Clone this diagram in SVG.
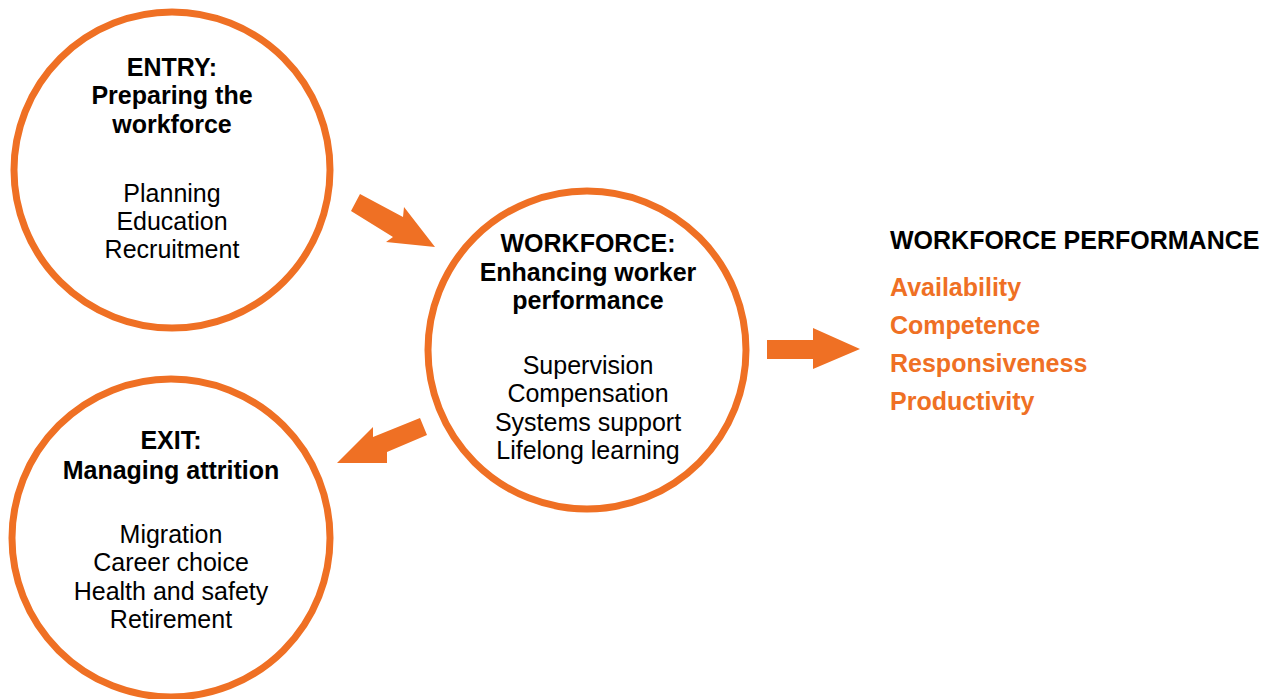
<svg xmlns="http://www.w3.org/2000/svg" width="1266" height="699" viewBox="0 0 1266 699">
<style>
.ring{fill:#fff;stroke:#EF7024;stroke-width:7}
.arrow{fill:#EF7024}
text{font-family:"Liberation Sans",Arial,sans-serif;font-size:25px;fill:#000}
.c{text-anchor:middle}
.b{font-weight:bold}
.o{fill:#EF7024;font-weight:bold}
</style>
<rect width="1266" height="699" fill="#fff"/>
<g id="connectors">
<polygon class="arrow" points="360,194 403,217 404,207 435,247 386,242 393,237 351,211"/>
<polygon class="arrow" points="420,418 427,435 387,452 387,463 337,463 373,427 373,437"/>
<polygon class="arrow" points="767,340 813,340 813,328 860,349 813,369 813,359 767,359"/>
</g>
<g id="entry">
<circle class="ring" cx="172" cy="170" r="158"/>
<text class="c b" x="172" y="76">ENTRY:</text>
<text class="c b" x="172" y="104">Preparing the</text>
<text class="c b" x="172" y="133">workforce</text>
<text class="c" x="172" y="202">Planning</text>
<text class="c" x="172" y="230">Education</text>
<text class="c" x="172" y="258">Recruitment</text>
</g>
<g id="workforce">
<circle class="ring" cx="587" cy="350" r="159"/>
<text class="c b" x="588" y="252">WORKFORCE:</text>
<text class="c b" x="588" y="281">Enhancing worker</text>
<text class="c b" x="588" y="309">performance</text>
<text class="c" x="588" y="374">Supervision</text>
<text class="c" x="588" y="402">Compensation</text>
<text class="c" x="588" y="431">Systems support</text>
<text class="c" x="588" y="459">Lifelong learning</text>
</g>
<g id="exit">
<circle class="ring" cx="171" cy="538" r="159"/>
<text class="c b" x="171" y="449">EXIT:</text>
<text class="c b" x="171" y="479">Managing attrition</text>
<text class="c" x="171" y="543">Migration</text>
<text class="c" x="171" y="571">Career choice</text>
<text class="c" x="171" y="600">Health and safety</text>
<text class="c" x="171" y="628">Retirement</text>
</g>
<g id="performance">
<text class="b" x="890" y="249">WORKFORCE PERFORMANCE</text>
<text class="o" x="890" y="296">Availability</text>
<text class="o" x="890" y="334">Competence</text>
<text class="o" x="890" y="372">Responsiveness</text>
<text class="o" x="890" y="410">Productivity</text>
</g>
</svg>
